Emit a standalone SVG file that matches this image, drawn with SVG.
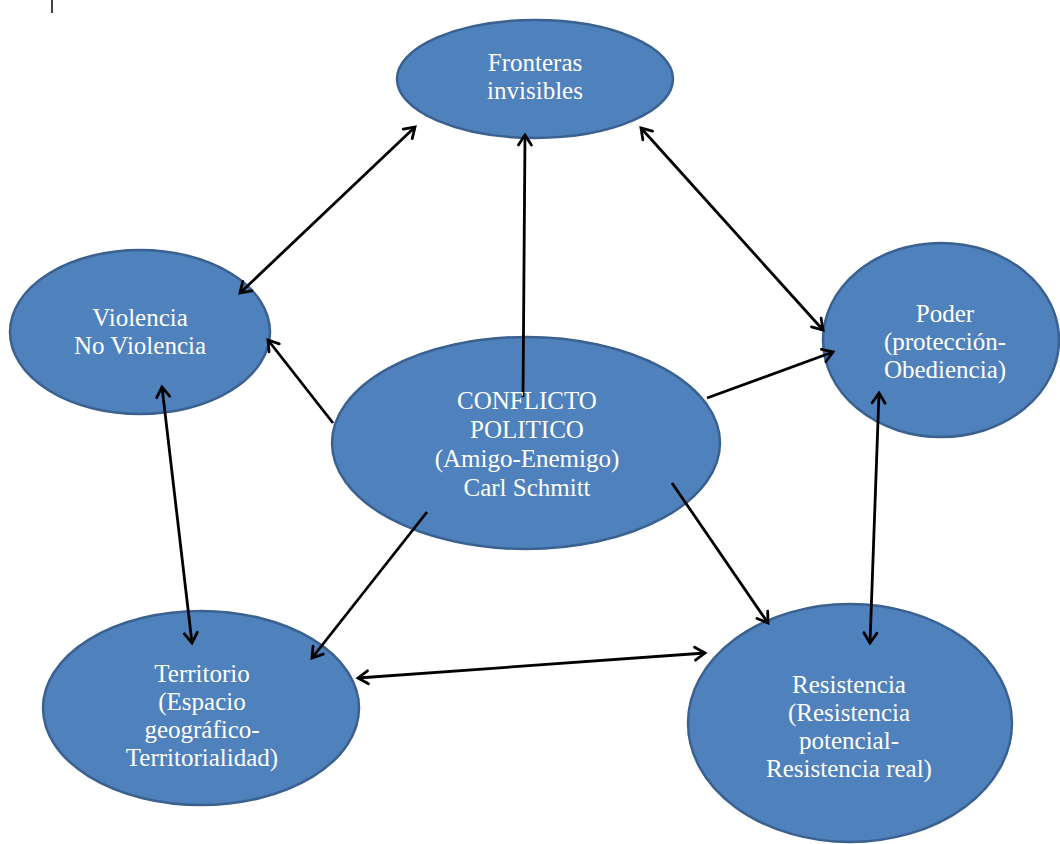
<svg xmlns="http://www.w3.org/2000/svg" width="1060" height="844" viewBox="0 0 1060 844">
  <style>
    .node ellipse { fill: #4F81BD; stroke: #3A6190; stroke-width: 2.5; }
    .node text { font-size: 25px; fill: #FFFFFF; text-anchor: middle; }
    .conn line { stroke: #000000; stroke-width: 2.8; marker-end: url(#arr); }
    .conn line.both { marker-start: url(#arr); }
  </style>
  <defs>
    <marker id="arr" markerUnits="userSpaceOnUse" viewBox="-13 -9 16 18" refX="0" refY="0" markerWidth="16" markerHeight="18" orient="auto-start-reverse">
      <path d="M-10,-6.5 L0,0 L-10,6.5" fill="none" stroke="#000000" stroke-width="2.8" stroke-linecap="round" stroke-linejoin="miter"/>
    </marker>
  </defs>
  <rect x="0" y="0" width="1060" height="844" fill="#FFFFFF"/>
  <line x1="52" y1="0" x2="52" y2="13" stroke="#444444" stroke-width="2"/>

  <g font-family="Liberation Serif, DejaVu Serif, Times New Roman, serif">
  <g id="fronteras" class="node">
    <ellipse cx="535" cy="79" rx="138" ry="59"/>
    <text x="535" y="71">Fronteras</text>
    <text x="535" y="99">invisibles</text>
  </g>
  <g id="violencia" class="node">
    <ellipse cx="140" cy="332" rx="130" ry="82"/>
    <text x="140" y="326">Violencia</text>
    <text x="140" y="354">No Violencia</text>
  </g>
  <g id="poder" class="node">
    <ellipse cx="941" cy="340" rx="118" ry="97"/>
    <text x="945" y="322">Poder</text>
    <text x="945" y="350">(protección-</text>
    <text x="945" y="378">Obediencia)</text>
  </g>
  <g id="conflicto" class="node">
    <ellipse cx="526" cy="443" rx="194" ry="106"/>
  </g>
  <g id="territorio" class="node">
    <ellipse cx="201" cy="708" rx="158" ry="97"/>
    <text x="202" y="682">Territorio</text>
    <text x="202" y="710">(Espacio</text>
    <text x="202" y="738">geográfico-</text>
    <text x="202" y="766">Territorialidad)</text>
  </g>
  <g id="resistencia" class="node">
    <ellipse cx="850" cy="723" rx="162" ry="119"/>
    <text x="849" y="693">Resistencia</text>
    <text x="849" y="721">(Resistencia</text>
    <text x="849" y="749">potencial-</text>
    <text x="849" y="777">Resistencia real)</text>
  </g>

  <g id="connectors" class="conn">
    <line class="both" x1="240" y1="293" x2="415" y2="127"/>
    <line class="both" x1="641" y1="128" x2="823" y2="330"/>
    <line x1="523" y1="397" x2="525" y2="135"/>
    <line x1="333" y1="423" x2="268" y2="340"/>
    <line class="both" x1="162" y1="387" x2="192" y2="643"/>
    <line x1="707" y1="398" x2="833" y2="352"/>
    <line class="both" x1="879" y1="393" x2="870" y2="643"/>
    <line x1="672" y1="483" x2="768" y2="623"/>
    <line x1="427" y1="512" x2="312" y2="658"/>
    <line class="both" x1="358" y1="678" x2="705" y2="653"/>
  </g>

  <g id="conflicto-label" class="node">
    <text x="527" y="409">CONFLICTO</text>
    <text x="527" y="438">POLITICO</text>
    <text x="527" y="467">(Amigo-Enemigo)</text>
    <text x="527" y="496">Carl Schmitt</text>
  </g>
  </g>
</svg>
